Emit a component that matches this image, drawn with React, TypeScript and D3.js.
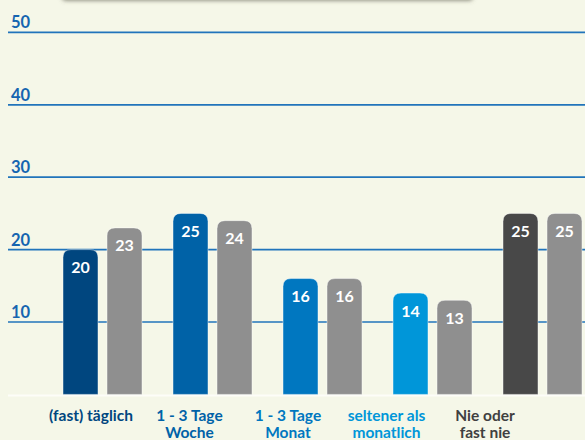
import React, { useEffect, useRef } from "react";
import * as d3 from "d3";

// categories + two series (coloured = current, grey = comparison)
const categories = ["(fast) täglich", "1 - 3 Tage Woche", "1 - 3 Tage Monat", "seltener als monatlich", "Nie oder fast nie"];
const labelLines = [["(fast) täglich"], ["1 - 3 Tage", "Woche"], ["1 - 3 Tage", "Monat"], ["seltener als", "monatlich"], ["Nie oder", "fast nie"]];
const seriesMain = [20, 25, 16, 14, 25];
const seriesCompare = [23, 24, 16, 13, 25];
const mainColors = ["#00467f", "#0062a7", "#0077c0", "#0096d9", "#484848"];
const labelColors = ["#00467f", "#0062a7", "#0077c0", "#0096d9", "#404040"];
const greyColor = "#8f8f8f";
const yTicks = [10, 20, 30, 40, 50];

const W = 585, H = 440;
const FONT = "Lato, 'Open Sans', sans-serif";

function topRounded(x: number, y: number, w: number, h: number, r: number) {
  return `M${x},${y + h}V${y + r}Q${x},${y} ${x + r},${y}H${x + w - r}Q${x + w},${y} ${x + w},${y + r}V${y + h}Z`;
}

export default function App() {
  const ref = useRef<SVGSVGElement>(null);

  useEffect(() => {
    const svg = d3.select(ref.current);
    svg.selectAll("*").remove();

    const y = d3.scaleLinear().domain([0, 50]).range([394.4, 32.4]);
    const x0 = d3.scaleBand().domain(categories).range([63, 582]).paddingInner(31 / 110).paddingOuter(0);
    const x1 = d3.scaleBand().domain(["main", "compare"]).range([0, x0.bandwidth()]).paddingInner(9 / 44);
    const xl = d3.scalePoint().domain(categories).range([91, 485]);

    svg.append("rect").attr("width", W).attr("height", H).attr("fill", "#f5f7e8");

    // shadow of the box above the chart
    const defs = svg.append("defs");
    const f = defs.append("filter").attr("id", "sh").attr("x", "-10%").attr("y", "-50%").attr("width", "120%").attr("height", "200%");
    f.append("feDropShadow").attr("dx", 0).attr("dy", 0.5).attr("stdDeviation", 2.2).attr("flood-color", "#5e5e50").attr("flood-opacity", 0.75);
    svg.append("rect").attr("x", 62).attr("y", -40).attr("width", 411).attr("height", 40)
      .attr("rx", 4).attr("fill", "#f5f7e8").attr("filter", "url(#sh)");

    // grid lines + labels
    const grid = svg.append("g");
    yTicks.forEach(t => {
      grid.append("line").attr("x1", 8).attr("x2", W).attr("y1", y(t)).attr("y2", y(t))
        .attr("stroke", "#2174bb").attr("stroke-width", 1.7);
      grid.append("text").attr("x", 11).attr("y", y(t) - 4).text(t)
        .attr("fill", "#1565b0").style("font-family", FONT).style("font-weight", 700).style("font-size", "16.5px");
    });

    // baseline
    svg.append("line").attr("x1", 8).attr("x2", W).attr("y1", y(0) + 1).attr("y2", y(0) + 1)
      .attr("stroke", "#fdfdf8").attr("stroke-width", 2);

    const groups = svg.selectAll(".grp").data(categories).enter().append("g")
      .attr("transform", d => `translate(${x0(d)},0)`);

    const bw = x1.bandwidth();
    groups.each(function (c, i) {
      const g = d3.select(this);
      const vals = [{ k: "main", v: seriesMain[i], col: mainColors[i] }, { k: "compare", v: seriesCompare[i], col: greyColor }];
      vals.forEach(b => {
        const bx = x1(b.k)!;
        const by = y(b.v);
        g.append("path").attr("d", topRounded(bx, by, bw, y(0) - by, 8))
          .attr("fill", b.col).attr("stroke", "#ffffff").attr("stroke-opacity", 0.45).attr("stroke-width", 1);
        g.append("text").attr("x", bx + bw / 2).attr("y", by + 23.5).attr("text-anchor", "middle")
          .text(b.v).attr("fill", "#ffffff").style("font-family", FONT).style("font-weight", 700).style("font-size", "16px");
      });
    });

    // category labels
    categories.forEach((c, i) => {
      const t = svg.append("text").attr("x", xl(c)).attr("y", 421).attr("text-anchor", "middle")
        .attr("fill", labelColors[i]).style("font-family", FONT).style("font-weight", 700).style("font-size", "15.5px");
      labelLines[i].forEach((ln, j) => {
        t.append("tspan").attr("x", xl(c)).attr("dy", j === 0 ? 0 : 17).text(ln);
      });
    });
  }, []);

  return (
    <div style={{ position: "absolute", left: 0, top: 0 }}>
      <svg ref={ref} width={W} height={H} style={{ display: "block" }} />
    </div>
  );
}
